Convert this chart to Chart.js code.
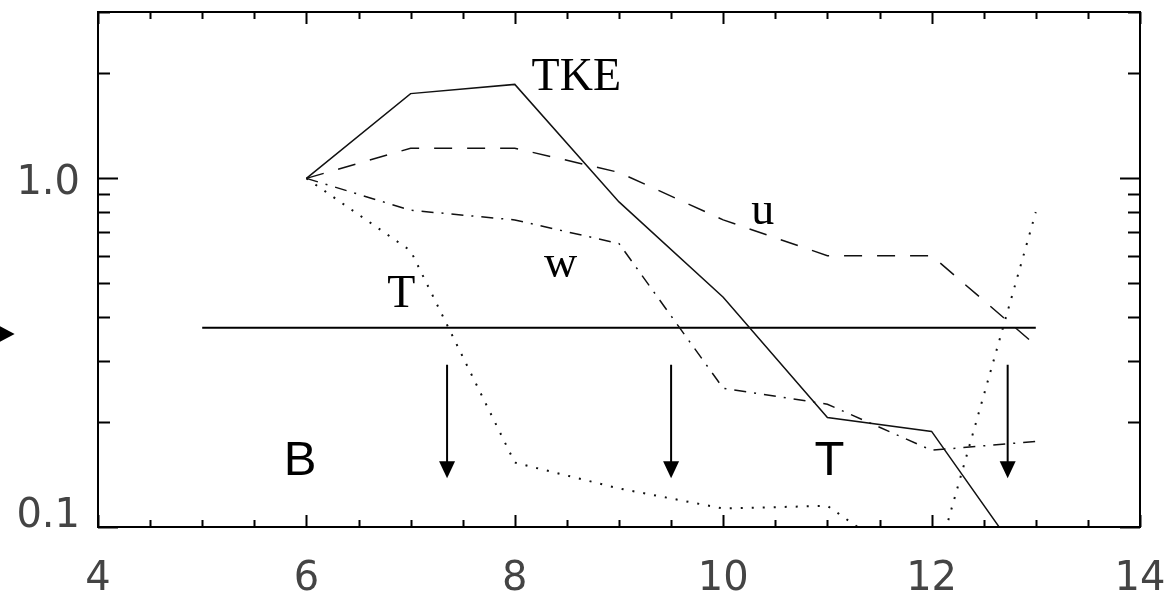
<!DOCTYPE html>
<html>
<head>
<meta charset="utf-8">
<script src="https://cdn.jsdelivr.net/npm/chart.js@4.4.1/dist/chart.umd.min.js"></script>
<style>
  html, body { margin: 0; padding: 0; background: #fff; }
  #wrap { width: 1167px; height: 597px; }
</style>
</head>
<body>
<div id="wrap"><canvas id="chart"></canvas></div>
<script>
// values
const xs = [6, 7, 8, 9, 10, 11, 12, 13]
const tke = [1.0, 1.75, 1.86, 0.856, 0.456, 0.206, 0.188, 0.071]
const u = [1.0, 1.22, 1.22, 1.04, 0.76, 0.60, 0.60, 0.332]
const w = [1.0, 0.81, 0.76, 0.65, 0.25, 0.225, 0.166, 0.176]
const temp = [1.0, 0.62, 0.153, 0.129, 0.113, 0.115, 0.071, 0.80]

const levelX = [5, 13]
const levelY = 0.373

const arrowX = [7.35, 9.5, 12.73]
const arrowTop = 0.292
const arrowTip = 0.138

// side marker, just left of the frame
const markerX = 3.2
const markerY = 0.358

const labelText = ['TKE', 'u', 'w', 'T', 'B', 'T']
const labelX = [8.59, 10.38, 8.44, 6.91, 5.94, 11.02]
const labelY = [1.79, 0.74, 0.52, 0.427, 0.141, 0.141]
const labelSerif = [true, true, true, true, false, false]

const yTickValues = [0.1, 1.0]
const yTickLabels = ['0.1', '1.0']
const yMinorTicks = [0.2, 0.3, 0.4, 0.5, 0.6, 0.7, 0.8, 0.9, 2, 3]

const series = ys => xs.map((x, i) => ({ x: x, y: ys[i] }))

// frame with inward ticks, y labels, arrows and text
const framePlugin = {
  id: 'frame',
  afterDatasetsDraw(chart) {
    const { ctx, chartArea: a } = chart
    const sx = chart.scales.x
    const sy = chart.scales.y
    ctx.save()
    ctx.strokeStyle = '#000'
    ctx.fillStyle = '#000'

    // x ticks, every 0.5
    ctx.lineWidth = 2
    ctx.beginPath()
    for (let v = 4; v <= 14.001; v += 0.5) {
      const px = Math.round(sx.getPixelForValue(v)) + 0.5
      const len = (Math.abs(v % 2) < 0.01) ? 12 : 7
      ctx.moveTo(px, a.bottom); ctx.lineTo(px, a.bottom - len)
      ctx.moveTo(px, a.top); ctx.lineTo(px, a.top + len)
    }
    // y ticks
    yTickValues.concat(yMinorTicks).forEach(v => {
      const py = Math.round(sy.getPixelForValue(v)) + 0.5
      const len = yTickValues.includes(v) ? 20 : 12
      ctx.moveTo(a.left, py); ctx.lineTo(a.left + len, py)
      ctx.moveTo(a.right, py); ctx.lineTo(a.right - len, py)
    })
    ctx.stroke()

    // box
    ctx.lineWidth = 2
    ctx.strokeRect(a.left, a.top, a.right - a.left, a.bottom - a.top)

    // y labels
    ctx.fillStyle = '#444'
    ctx.font = '40px "DejaVu Sans"'
    ctx.textAlign = 'right'
    ctx.textBaseline = 'alphabetic'
    yTickValues.forEach((v, i) => {
      const py = Math.min(sy.getPixelForValue(v) + 16, a.bottom)
      ctx.fillText(yTickLabels[i], a.left - 18, py)
    })

    // arrows
    ctx.fillStyle = '#000'
    ctx.lineWidth = 2
    arrowX.forEach(x => {
      const px = sx.getPixelForValue(x)
      const top = sy.getPixelForValue(arrowTop)
      const tip = sy.getPixelForValue(arrowTip)
      ctx.beginPath()
      ctx.moveTo(px, top); ctx.lineTo(px, tip - 10)
      ctx.stroke()
      ctx.beginPath()
      ctx.moveTo(px, tip)
      ctx.lineTo(px - 8, tip - 17)
      ctx.lineTo(px + 8, tip - 17)
      ctx.closePath()
      ctx.fill()
    })

    // side marker
    const mx = sx.getPixelForValue(markerX)
    const my = sy.getPixelForValue(markerY)
    ctx.beginPath()
    ctx.moveTo(mx, my)
    ctx.lineTo(mx - 17, my - 9)
    ctx.lineTo(mx - 17, my + 9)
    ctx.closePath()
    ctx.fill()

    // curve labels
    ctx.textAlign = 'center'
    labelText.forEach((t, i) => {
      ctx.font = labelSerif[i] ? '46px "Liberation Serif"' : '49px "Liberation Sans"'
      ctx.fillText(t, sx.getPixelForValue(labelX[i]), sy.getPixelForValue(labelY[i]))
    })
    ctx.restore()
  }
}

const line = (label, ys, dash, width) => ({
  label: label,
  data: series(ys),
  borderColor: '#111',
  borderWidth: width,
  borderDash: dash,
  pointRadius: 0,
  tension: 0,
  fill: false
})

new Chart(document.getElementById('chart'), {
  type: 'line',
  data: {
    datasets: [
      line('TKE', tke, [], 1.5),
      line('u', u, [18, 15], 1.5),
      line('w', w, [12, 8, 2, 8], 1.5),
      line('T', temp, [2, 9], 2),
      {
        label: 'level',
        data: levelX.map(x => ({ x: x, y: levelY })),
        borderColor: '#000',
        borderWidth: 2,
        pointRadius: 0
      }
    ]
  },
  options: {
    responsive: true,
    maintainAspectRatio: false,
    animation: false,
    layout: { padding: { top: 12, right: 27, left: 0, bottom: 0 } },
    plugins: { legend: { display: false }, tooltip: { enabled: false } },
    scales: {
      x: {
        type: 'linear',
        min: 4,
        max: 14,
        grid: { display: false, drawTicks: false },
        border: { display: false },
        ticks: {
          stepSize: 2,
          autoSkip: false,
          maxRotation: 0,
          padding: 29,
          color: '#444',
          font: { family: 'DejaVu Sans', size: 40 }
        },
        afterFit: s => {
          s.height = 70
          s.paddingLeft = 0
          s.paddingRight = 0
        }
      },
      y: {
        type: 'logarithmic',
        min: 0.1,
        max: 3,
        grid: { display: false, drawTicks: false },
        border: { display: false },
        ticks: { display: false },
        afterFit: s => {
          s.width = 98
          s.paddingTop = 0
          s.paddingBottom = 0
        }
      }
    }
  },
  plugins: [framePlugin]
})
</script>
</body>
</html>
